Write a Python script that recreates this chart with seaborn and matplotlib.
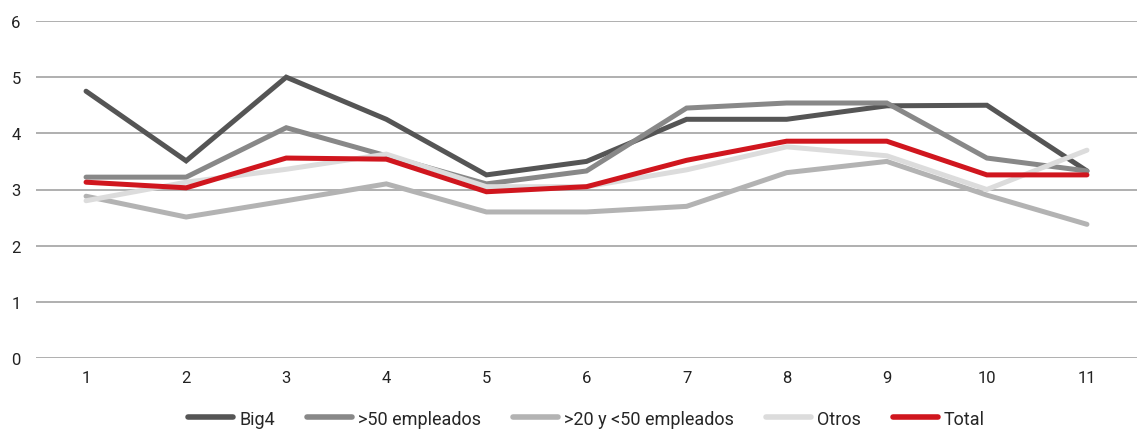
import pandas as pd
import matplotlib.pyplot as plt
import seaborn as sns

# Datos
periodos = list(range(1, 12))
big4 = [4.75, 3.51, 5.0, 4.25, 3.26, 3.5, 4.25, 4.25, 4.49, 4.5, 3.33]
mas_50 = [3.22, 3.22, 4.1, 3.6, 3.1, 3.33, 4.45, 4.54, 4.54, 3.56, 3.33]
entre_20_50 = [2.88, 2.51, 2.8, 3.1, 2.6, 2.6, 2.7, 3.3, 3.5, 2.9, 2.38]
otros = [2.8, 3.13, 3.36, 3.63, 3.05, 3.05, 3.35, 3.76, 3.6, 3.0, 3.7]
total = [3.13, 3.03, 3.56, 3.54, 2.96, 3.05, 3.52, 3.86, 3.86, 3.26, 3.26]

series = {
    "Big4": big4,
    ">50 empleados": mas_50,
    ">20 y <50 empleados": entre_20_50,
    "Otros": otros,
    "Total": total,
}
colores = ["#555555", "#888888", "#b3b3b3", "#dcdcdc", "#d0161e"]

df = pd.DataFrame(
    [(k, x, y) for k, vals in series.items() for x, y in zip(periodos, vals)],
    columns=["serie", "periodo", "valor"],
)

sns.set_theme(style="white")
plt.rcParams["font.family"] = ["Roboto", "DejaVu Sans"]

fig = plt.figure(figsize=(11.39, 4.31), dpi=100)
ax = fig.add_axes([36 / 1139, 1 - 359 / 431, 1 - 38 / 1139, 337 / 431])

sns.lineplot(
    data=df, x="periodo", y="valor", hue="serie",
    palette=colores, linewidth=3.6, ax=ax, legend=False,
    solid_capstyle="round", solid_joinstyle="miter",
)

ax.set_xlim(0.5, 11.5)
ax.set_ylim(0, 6)
ax.set_xticks(periodos)
ax.set_yticks(range(0, 7))
ax.set_xlabel("")
ax.set_ylabel("")
ax.yaxis.grid(True, color="#9a9a9a", linewidth=1.1)
ax.set_axisbelow(True)
for s in ax.spines.values():
    s.set_visible(False)
ax.tick_params(axis="both", length=0, labelsize=12, colors="#222222")
ax.tick_params(axis="y", pad=11)
ax.tick_params(axis="x", pad=9)

handles = [plt.Line2D([], [], color=c, linewidth=4, solid_capstyle="round") for c in colores]
ax.legend(
    handles, list(series.keys()), loc="center", bbox_to_anchor=(0.5, -0.18),
    ncol=5, frameon=False, fontsize=13, handlelength=2.5, handletextpad=0.35,
    columnspacing=1.75,
)

fig.savefig("out.png", dpi=100)
